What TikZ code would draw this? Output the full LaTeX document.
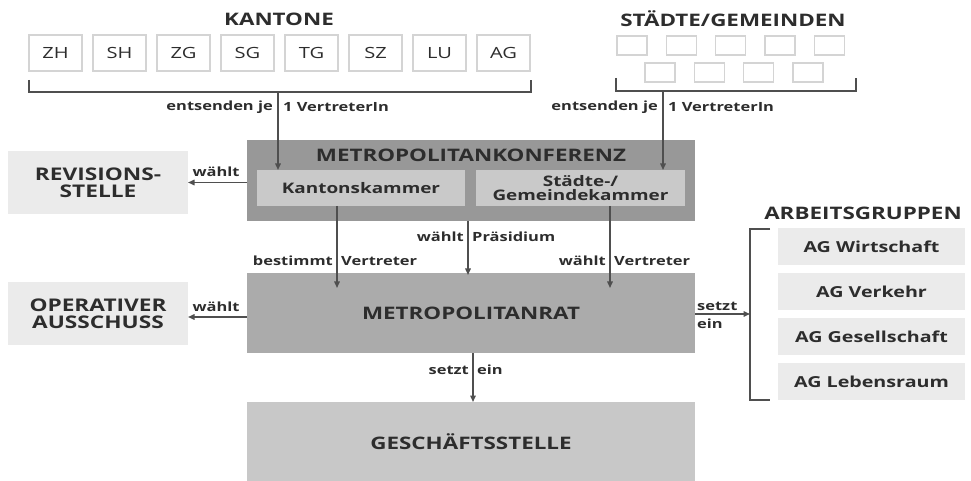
\documentclass[tikz,border=0pt]{standalone}
\usepackage{fontspec}
\setmainfont{Open Sans}[FakeStretch=1.3]
\usetikzlibrary{arrows.meta}
\definecolor{linec}{HTML}{4F4F4F}
\definecolor{txt}{HTML}{2D2D2D}
\definecolor{konf}{HTML}{989898}
\definecolor{kammer}{HTML}{C9C9C9}
\definecolor{ratc}{HTML}{ABABAB}
\definecolor{gsc}{HTML}{C8C8C8}
\definecolor{lightc}{HTML}{EBEBEB}
\definecolor{kbord}{HTML}{D4D4D4}
\begin{document}
\begin{tikzpicture}[x=1bp,y=-1bp,
  box/.style={inner sep=0pt, outer sep=0pt, text=txt, align=center},
  fs/.style={font=\fontsize{#1}{#1}\selectfont\bfseries},
  kbox/.style={box, draw=kbord, line width=1.3bp, fill=white, minimum width=53bp, minimum height=36bp, font=\fontsize{15.5}{16}\selectfont},
  sbox/.style={box, draw=kbord, line width=1.3bp, fill=white, minimum width=30bp, minimum height=19bp},
  agbox/.style={box, fill=lightc, minimum width=187bp, minimum height=37bp, fs=15.2},
  lab/.style={inner sep=0pt, text=txt, fs=12.7},
  ttl/.style={inner sep=0pt, text=txt, fs=17.3},
  conn/.style={draw=linec, line width=1.5bp},
  arr/.style={conn, -{Triangle[length=6.5bp,width=5.5bp]}}
]
\useasboundingbox (0,0) rectangle (971,481);

% ---- Kantone
\node[ttl] (ktitle) at (279,19) {KANTONE};
\foreach \n/\t [count=\i from 0] in {k1/ZH,k2/SH,k3/ZG,k4/SG,k5/TG,k6/SZ,k7/LU,k8/AG}
  \node[kbox] (\n) at (55.5+64*\i,53) {\t};
\coordinate (kbl) at (29,80);
\coordinate (kbr) at (531,80);
\coordinate (kmid) at (278,92);
\draw[conn] (kbl) |- (kmid) -| (kbr);

% ---- Staedte
\node[ttl] (stitle) at (733,19) {STÄDTE/GEMEINDEN};
\foreach \i in {0,...,4}
  \node[sbox] (s1\i) at (632+49.3*\i,45.5) {};
\foreach \i in {0,...,3}
  \node[sbox] (s2\i) at (660+49.3*\i,72.5) {};
\coordinate (sbl) at (616,78);
\coordinate (sbr) at (856,78);
\coordinate (smid) at (663,91);
\draw[conn] (sbl) |- (smid) -| (sbr);

% ---- Konferenz
\node[box, fill=konf, minimum width=448bp, minimum height=81bp] (konf) at (471,180.5) {};
\node[ttl] (konftitle) at (471,155) {METROPOLITANKONFERENZ};
\node[box, fill=kammer, minimum width=208bp, minimum height=36bp, fs=14.6] (kk) at (361,188) {Kantonskammer};
\node[box, fill=kammer, minimum width=209bp, minimum height=36bp, fs=14.6] (sk) at (580.5,188) {Städte-/\\[0pt]Gemeindekammer};

\draw[arr] (kmid) -- (kk.north -| kmid);
\draw[arr] (smid) -- (sk.north -| smid);
\node[lab, anchor=east] (l1a) at (273,107) {entsenden je};
\node[lab, anchor=west] (l1b) at (283,107) {1 VertreterIn};
\node[lab, anchor=east] (l2a) at (658,107) {entsenden je};
\node[lab, anchor=west] (l2b) at (668,107) {1 VertreterIn};

% ---- Revisionsstelle
\node[box, fill=lightc, minimum width=180bp, minimum height=63bp, fs=17.5] (rev) at (98,182.5) {REVISIONS-\\[0pt]STELLE};
\draw[arr] (konf.west |- rev.east) -- (rev.east);
\node[lab] (rw) at (216,172) {wählt};

% ---- Metropolitanrat
\node[box, fill=ratc, minimum width=448bp, minimum height=80bp, fs=17.3] (rat) at (471,313) {METROPOLITANRAT};
\coordinate (bvEnd) at (337,288);
\coordinate (wvEnd) at (610,288);
\coordinate (praes) at (468,250);
\draw[arr] (kk.south -| bvEnd) -- (bvEnd);
\draw[arr] (sk.south -| wvEnd) -- (wvEnd);
\draw[arr] (konf.south -| praes) -- ([yshift=-2bp]rat.north -| praes);
\node[lab, anchor=east] (b1) at (333,261) {bestimmt};
\node[lab, anchor=west] (b2) at (341,261) {Vertreter};
\node[lab, anchor=east] (p1) at (464,237) {wählt};
\node[lab, anchor=west] (p2) at (472,237) {Präsidium};
\node[lab, anchor=east] (w1) at (606,261) {wählt};
\node[lab, anchor=west] (w2) at (614,261) {Vertreter};

% ---- Operativer Ausschuss
\node[box, fill=lightc, minimum width=180bp, minimum height=63bp, fs=17.5] (op) at (98,313.5) {OPERATIVER\\[0pt]AUSSCHUSS};
\coordinate (opy) at (0,317);
\draw[arr] (rat.west |- opy) -- (op.east |- opy);
\node[lab] (ow) at (216,307) {wählt};

% ---- Arbeitsgruppen
\node[ttl] (agtitle) at (863,213) {ARBEITSGRUPPEN};
\node[agbox] (ag1) at (871.5,246.5) {AG Wirtschaft};
\node[agbox] (ag2) at (871.5,291.5) {AG Verkehr};
\node[agbox] (ag3) at (871.5,336.5) {AG Gesellschaft};
\node[agbox] (ag4) at (871.5,381.5) {AG Lebensraum};
\coordinate (agt) at (770,229);
\coordinate (agb) at (770,400);
\coordinate (agm) at (750,314);
\draw[conn] (agt) -- (750,229) -- (750,400) -- (agb);
\draw[arr] (rat.east |- agm) -- (agm);
\node[lab, anchor=west] (se1) at (697,306) {setzt};
\node[lab, anchor=west] (se2) at (697,324) {ein};

% ---- Geschaeftsstelle
\node[box, fill=gsc, minimum width=448bp, minimum height=79bp, fs=17.3] (gs) at (471,441.5) {GESCHÄFTSSTELLE};
\coordinate (gsx) at (473,0);
\draw[arr] (rat.south -| gsx) -- (gs.north -| gsx);
\node[lab, anchor=east] (g1) at (469,370) {setzt};
\node[lab, anchor=west] (g2) at (477,370) {ein};
\end{tikzpicture}
\end{document}
